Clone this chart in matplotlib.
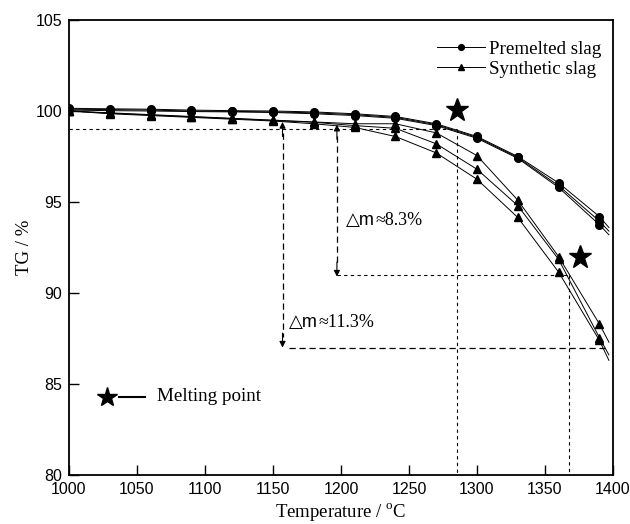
import matplotlib
matplotlib.use("Agg")
import matplotlib.pyplot as plt

plt.rcParams['mathtext.fontset'] = 'custom'
plt.rcParams['mathtext.rm'] = 'Liberation Serif'

temps = [1000, 1030, 1060, 1090, 1120, 1150, 1180, 1210, 1240, 1270, 1300, 1330, 1360, 1390, 1397]
premelted = [
    [100.15, 100.12, 100.10, 100.05, 100.02, 100.00, 99.95, 99.85, 99.70, 99.30, 98.60, 97.50, 96.05, 94.20, 93.60],
    [100.10, 100.08, 100.05, 100.00, 99.98, 99.95, 99.90, 99.80, 99.65, 99.25, 98.55, 97.45, 95.90, 93.95, 93.40],
    [100.05, 100.02, 100.00, 99.97, 99.95, 99.92, 99.85, 99.75, 99.60, 99.20, 98.50, 97.40, 95.80, 93.75, 93.20],
]
synthetic = [
    [100.00, 99.90, 99.80, 99.70, 99.60, 99.50, 99.40, 99.30, 99.30, 98.80, 97.55, 95.10, 92.00, 88.30, 87.30],
    [100.00, 99.88, 99.78, 99.68, 99.58, 99.48, 99.38, 99.20, 99.05, 98.20, 96.80, 94.80, 91.85, 87.55, 86.60],
    [100.00, 99.85, 99.75, 99.65, 99.55, 99.45, 99.30, 99.10, 98.60, 97.70, 96.25, 94.15, 91.15, 87.40, 86.30],
]
melting_points = [(1285, 100.05), (1376, 92.0)]
xticks = [1000, 1050, 1100, 1150, 1200, 1250, 1300, 1350, 1400]
yticks = [80, 85, 90, 95, 100, 105]

serif = ['Liberation Serif', 'DejaVu Serif']
sans = ['Liberation Sans', 'DejaVu Sans']

fig = plt.figure(figsize=(6.3, 5.24), dpi=100)
ax = fig.add_axes([0.1095, 0.0935, 0.8635, 0.8683])

mk_every = list(range(len(temps) - 1))
for i, ys in enumerate(premelted):
    ax.plot(temps, ys, color='black', lw=0.7, marker='o', ms=5.5,
            markevery=mk_every, label='Premelted slag' if i == 0 else None)
for i, ys in enumerate(synthetic):
    ax.plot(temps, ys, color='black', lw=0.7, marker='^', ms=6,
            markevery=mk_every, label='Synthetic slag' if i == 0 else None)

# melting points
for (mx, my) in melting_points:
    ax.plot(mx, my, marker='*', color='black', ms=17, ls='none')

# guide lines
ax.plot([1000, 1285], [99.0, 99.0], color='black', lw=0.8, ls=(0, (3, 3)))
ax.plot([1285, 1285], [99.0, 80], color='black', lw=0.8, ls=(0, (3, 3)))
ax.plot([1197, 1368], [91.0, 91.0], color='black', lw=0.8, ls=(0, (3, 3)))
ax.plot([1368, 1368], [91.0, 80], color='black', lw=0.8, ls=(0, (3, 3)))
ax.plot([1162, 1397], [87.0, 87.0], color='black', lw=0.9, ls=(0, (5, 3)))

# double arrows
for x, ytop, ybot in [(1197, 99.25, 90.9), (1157, 99.4, 87.0)]:
    ax.plot([x, x], [ytop - 0.6, ybot + 0.6], color='black', lw=0.9, ls=(0, (5, 3)))
    ax.annotate('', xy=(x, ytop), xytext=(x, ytop - 0.8),
                arrowprops=dict(arrowstyle='-|>', lw=0.8, color='black',
                                mutation_scale=9, shrinkA=0, shrinkB=0))
    ax.annotate('', xy=(x, ybot), xytext=(x, ybot + 0.8),
                arrowprops=dict(arrowstyle='-|>', lw=0.8, color='black',
                                mutation_scale=9, shrinkA=0, shrinkB=0))

for (tx, ty, rest) in [(1204, 94.0, '≈8.3%'), (1162, 88.4, '≈11.3%')]:
    t1 = ax.text(tx, ty, '△m', fontsize=13, family=['Liberation Sans', 'DejaVu Sans'],
                 va='center', ha='left')
    ax.annotate(rest, xy=(1, 0.5), xycoords=t1, fontsize=13, family=serif,
                va='center', ha='left')

# melting point key
ax.plot(1028, 84.3, marker='*', color='black', ms=15, ls='none')
ax.plot([1037, 1056], [84.3, 84.3], color='black', lw=1.5)
ax.text(1065, 84.3, 'Melting point', fontsize=13.7, family=serif, va='center', ha='left')

ax.set_xlim(1000, 1400)
ax.set_ylim(80, 105)
ax.set_xticks(xticks)
ax.set_yticks(yticks)
ax.tick_params(direction='in', length=7, width=1, top=False, right=False, labelsize=11.5, pad=5)
for lab in ax.get_xticklabels() + ax.get_yticklabels():
    lab.set_family(sans)
for s in ax.spines.values():
    s.set_linewidth(1.3)

ax.set_xlabel('Temperature / $^{\\mathrm{o}}$C', fontsize=13.5, family=serif, labelpad=3)
ax.set_ylabel('TG / %', fontsize=13.5, family=serif, labelpad=2)

leg = ax.legend(loc='upper right', bbox_to_anchor=(0.978, 0.955), frameon=False,
                prop={'family': serif, 'size': 13.7},
                handlelength=2.5, handletextpad=0.2, labelspacing=0.15,
                borderaxespad=0.0, markerscale=0.75, borderpad=0.0)

fig.savefig('out.png', dpi=100)
